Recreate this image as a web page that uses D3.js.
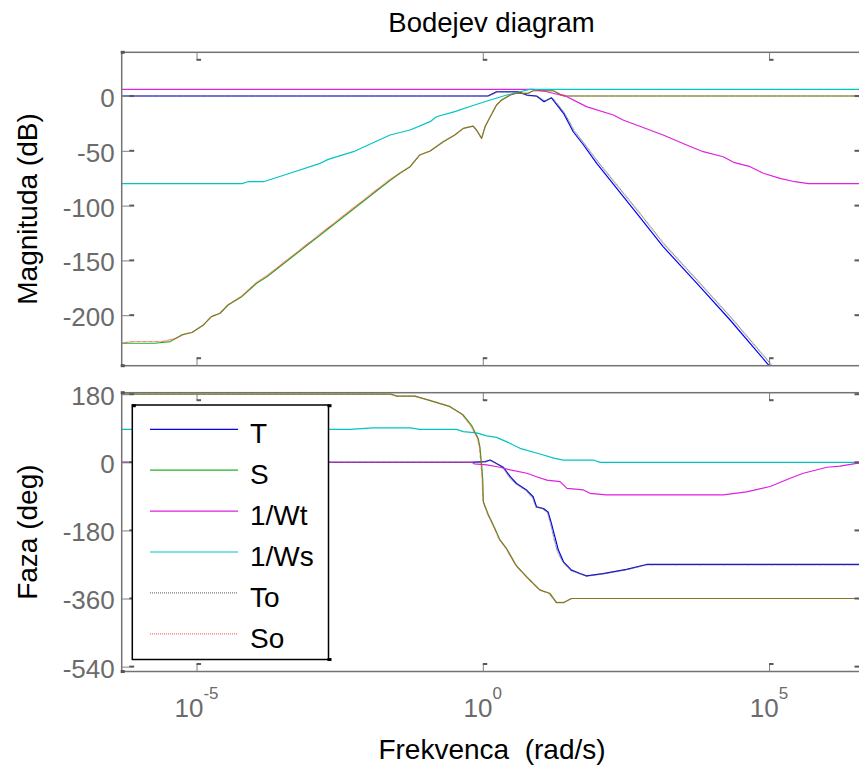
<!DOCTYPE html>
<html>
<head>
<meta charset="utf-8">
<script src="https://cdn.jsdelivr.net/npm/d3@7"></script>
<style>
  html, body { margin: 0; padding: 0; background: #fff; }
  svg { display: block; font-family: "Liberation Sans", Arial, Helvetica, sans-serif; }
</style>
</head>
<body>
<svg id="chart" width="859" height="765"></svg>
<script>
// ---- data: [log10(frequency in rad/s), value] ----
const seriesNames = ["T", "S", "1/Wt", "1/Ws", "To", "So"];
const freqTicks = [1e-5, 1, 1e5];
const magTicks = [0, -50, -100, -150, -200];
const phaseTicks = [180, 0, -180, -360, -540];

// magnitude (dB)
const magT = [[-6.31,0],[0.09,0],[0.24,3.9],[0.62,3.9],[0.77,0.9],[0.94,0],[1.07,-5.2],[1.20,-1.6],[1.41,-15.8],[1.58,-32.6],[1.76,-44.7],[1.99,-61.4],[2.34,-84.2],[2.69,-107],[3.15,-137.5],[3.74,-170.9],[4.32,-204.4],[4.99,-245.4],[5.5,-277]];
const magS = [[-6.31,-225.6],[-5.73,-225.6],[-5.46,-224.1],[-5.26,-218],[-5.08,-215.8],[-4.88,-208.9],[-4.74,-201.3],[-4.59,-198.2],[-4.45,-190.7],[-4.21,-183.1],[-3.95,-170.9],[-3.77,-164.9],[-1.65,-78.2],[-1.45,-70.5],[-1.27,-64.5],[-1.10,-53.8],[-0.92,-50.2],[-0.69,-41.7],[-0.49,-35.6],[-0.34,-29.5],[-0.17,-27.4],[-0.11,-31],[-0.02,-38.6],[0.04,-28],[0.13,-18.9],[0.24,-8.2],[0.33,-3.6],[0.48,0.9],[0.59,2.5],[0.79,2.5],[0.88,4.8],[1.23,4.8],[1.41,0],[6.71,0]];
const magWt = [[-6.31,6],[0.88,6],[1.12,3.9],[1.35,0.9],[1.41,0.9],[1.81,-9.7],[2.28,-17.3],[2.45,-21.9],[3.15,-35.6],[3.56,-44.7],[3.85,-50.8],[4.20,-55.4],[4.38,-60.5],[4.67,-64.5],[4.90,-70.5],[5.19,-75.1],[5.45,-78.2],[5.69,-80],[6.71,-80]];
const magWs = [[-6.31,-80],[-4.21,-80],[-4.10,-78.2],[-3.83,-78.2],[-3.37,-70.5],[-2.84,-61.4],[-2.70,-57.8],[-2.26,-50.8],[-1.62,-35.6],[-1.27,-31],[-0.92,-23.4],[-0.81,-18.9],[-0.49,-14.3],[-0.17,-8.7],[0.13,-3.6],[0.42,0.9],[0.65,3.9],[0.82,6],[6.71,6]];
const magTo = [[-6.31,0],[0.09,0],[0.25,3.5],[0.62,3.5],[0.78,0.5],[0.95,-0.5],[1.08,-4.5],[1.21,-1.5],[1.42,-15],[1.60,-32],[1.78,-44],[2.01,-60],[2.36,-82.5],[2.72,-105.5],[3.18,-136],[3.77,-169.5],[4.35,-203],[5.02,-244],[5.5,-274]];
const magSo = [[-6.31,-225.5],[-6.12,-224],[-5.60,-224],[-5.35,-221],[-5.20,-217],[-5.08,-215.8],[-4.88,-208.9],[-4.74,-201.3],[-4.59,-198.2],[-4.45,-190.7],[-4.21,-182.5],[-3.95,-170],[-3.77,-163.9],[-1.65,-77.2],[-1.45,-70.5],[-1.27,-64.5],[-1.10,-53.8],[-0.92,-50.2],[-0.69,-41.7],[-0.49,-35.6],[-0.34,-29.5],[-0.17,-27.4],[-0.11,-31],[-0.02,-38.6],[0.04,-28],[0.13,-18.9],[0.24,-8.2],[0.33,-3.6],[0.48,0.9],[0.59,2.5],[0.79,2.5],[0.88,4.8],[1.23,4.8],[1.41,0],[6.71,0]];

// phase (deg)
const phaseT = [[-6.31,0],[-0.22,0],[0.04,2],[0.13,6],[0.24,-3],[0.36,-13],[0.48,-38],[0.59,-56],[0.77,-74],[0.88,-91],[0.94,-118],[1.06,-122],[1.14,-131],[1.20,-162],[1.26,-197],[1.32,-232],[1.41,-263],[1.55,-285],[1.70,-294],[1.81,-300],[2.10,-294],[2.51,-283],[2.86,-270],[6.71,-270]];
const phaseS = [[-6.31,180],[-1.59,180],[-1.50,175],[-1.18,175],[-0.92,163],[-0.57,147],[-0.34,125],[-0.19,96],[-0.08,63],[-0.05,41],[-0.02,-7],[0.00,-47],[0.01,-105],[0.10,-139],[0.21,-174],[0.30,-205],[0.42,-229],[0.59,-274],[0.77,-303],[1.00,-338],[1.17,-346],[1.29,-371],[1.41,-371],[1.55,-360],[6.71,-360]];
const phaseWt = [[-6.31,0],[-0.19,0],[-0.15,-4],[0.07,-7],[0.30,-13],[0.48,-20],[0.77,-29],[0.94,-38],[1.12,-47],[1.35,-51],[1.47,-69],[1.76,-73],[1.87,-82],[2.16,-86],[4.20,-86],[4.61,-78],[5.02,-64],[5.37,-42],[5.60,-29],[6.01,-13],[6.24,-10],[6.53,-3],[6.71,0]];
const phaseWs = [[-6.31,87],[-2.32,87],[-1.92,91],[-1.27,91],[-1.10,87],[-0.46,87],[-0.34,81],[-0.11,78],[0.07,70],[0.24,66],[0.42,54],[0.65,37],[1.00,22],[1.24,11],[1.41,6],[1.93,6],[2.05,0],[6.71,0]];
const phaseTo = [[-6.31,0],[-0.22,0],[0.04,1],[0.13,5],[0.24,-4],[0.36,-15],[0.47,-40],[0.58,-57],[0.76,-75],[0.87,-93],[0.93,-118],[1.05,-123],[1.13,-133],[1.19,-165],[1.24,-199],[1.30,-234],[1.40,-264],[1.54,-286],[1.70,-295],[1.81,-301],[2.10,-295],[2.51,-284],[2.86,-271],[6.71,-271]];
const phaseSo = [[-6.31,180],[-1.62,180],[-1.52,175],[-1.20,175],[-0.95,165],[-0.60,149],[-0.37,128],[-0.22,99],[-0.10,66],[-0.06,43],[-0.03,-5],[-0.01,-45],[0.00,-100],[0.08,-136],[0.19,-170],[0.28,-202],[0.40,-226],[0.57,-271],[0.75,-301],[0.98,-336],[1.15,-346],[1.28,-370],[1.41,-370],[1.55,-360],[6.71,-360]];

// ---- styling ----
const seriesColors = ["#0000ff", "#22b022", "#dd22dd", "#00c4c4", "#555555", "#ff3030"];
const plotDash     = [null, null, null, null, "0.6,0.6", "0.6,0.6"];
const legendDash   = [null, null, null, null, "1,1", "1,1"];
const legendOpacity = [1, 1, 1, 1, 0.8, 0.7];
const magSeries   = [magT, magS, magWt, magWs, magTo, magSo];
const phaseSeries = [phaseT, phaseS, phaseWt, phaseWs, phaseTo, phaseSo];

const svg = d3.select("#chart");
const plotLeft = 121.7, plotRight = 867;
const magTop = 52.3, magBottom = 365.7;
const phaseTop = 392.7, phaseBottom = 671.5;
const frameColor = "#737373", tickTextColor = "#6b6b6b";

const x = d3.scaleLog().domain([Math.pow(10, -6.307), Math.pow(10, 6.711)]).range([plotLeft, plotRight]);
const yMag = d3.scaleLinear().domain([-246.1, 39.9]).range([magBottom, magTop]);
const yPhase = d3.scaleLinear().domain([-552.9, 184]).range([phaseBottom, phaseTop]);

function drawPanel(id, yScale, top, bottom, seriesList, yTicks, showXLabels) {
  const clipId = "clip-" + id;
  svg.append("clipPath").attr("id", clipId)
    .append("rect").attr("x", plotLeft).attr("y", top)
    .attr("width", plotRight - plotLeft).attr("height", bottom - top);

  const lines = svg.append("g").attr("clip-path", `url(#${clipId})`);
  const line = d3.line().x(d => x(Math.pow(10, d[0]))).y(d => yScale(d[1]));
  seriesList.forEach((data, i) => {
    lines.append("path")
      .attr("d", line(data))
      .attr("fill", "none")
      .attr("stroke", seriesColors[i])
      .attr("stroke-width", 1.2)
      .attr("stroke-dasharray", plotDash[i])
      .attr("stroke-linejoin", "round");
  });

  // axis box
  svg.append("rect")
    .attr("x", plotLeft).attr("y", top)
    .attr("width", plotRight - plotLeft).attr("height", bottom - top)
    .attr("fill", "none").attr("stroke", frameColor).attr("stroke-width", 1.5);
  [[plotLeft - 1, top - 1.5], [plotLeft - 1, bottom - 1.5]].forEach(p => {
    svg.append("rect").attr("x", p[0]).attr("y", p[1]).attr("width", 4).attr("height", 3).attr("fill", "#555");
  });

  // y axis (left) with labels
  const left = svg.append("g").attr("transform", `translate(${plotLeft},0)`)
    .call(d3.axisLeft(yScale).tickValues(yTicks).tickSize(-7.5).tickPadding(7).tickFormat(d => String(d)));
  left.select(".domain").remove();
  left.selectAll(".tick line").attr("stroke", "#808080");
  left.selectAll(".tick text").attr("fill", tickTextColor).attr("font-size", 26)
    .attr("dy", "0.4em").attr("font-family", "Liberation Sans, Arial, sans-serif");

  // y axis (right) ticks only
  const right = svg.append("g").attr("transform", `translate(${plotRight},0)`)
    .call(d3.axisRight(yScale).tickValues(yTicks).tickSize(-7.5).tickFormat(""));
  right.select(".domain").remove();
  right.selectAll(".tick line").attr("stroke", "#808080");

  yTicks.forEach(v => {
    const yy = yScale(v);
    svg.append("rect").attr("x", plotLeft + 7.5).attr("y", yy - 1).attr("width", 5).attr("height", 2).attr("fill", "#5a5a5a");
    svg.append("rect").attr("x", plotRight - 12.5).attr("y", yy - 1).attr("width", 5).attr("height", 2).attr("fill", "#5a5a5a");
  });

  // x ticks on top and bottom edges
  const topAx = svg.append("g").attr("transform", `translate(0,${top})`)
    .call(d3.axisTop(x).tickValues(freqTicks).tickSize(-7.5).tickFormat(""));
  topAx.select(".domain").remove();
  topAx.selectAll(".tick line").attr("stroke", "#808080");
  const botAx = svg.append("g").attr("transform", `translate(0,${bottom})`)
    .call(d3.axisBottom(x).tickValues(freqTicks).tickSize(-7.5).tickFormat(""));
  botAx.select(".domain").remove();
  botAx.selectAll(".tick line").attr("stroke", "#808080");
  freqTicks.forEach(f => {
    const xx = x(f);
    svg.append("rect").attr("x", xx).attr("y", top + 6.5).attr("width", 4.5).attr("height", 2).attr("fill", "#5a5a5a");
    svg.append("rect").attr("x", xx).attr("y", bottom - 8.5).attr("width", 4.5).attr("height", 2).attr("fill", "#5a5a5a");
  });

  if (showXLabels) {
    freqTicks.forEach(f => {
      const t = svg.append("text")
        .attr("x", x(f)).attr("y", 716.7)
        .attr("text-anchor", "middle")
        .attr("fill", tickTextColor);
      t.append("tspan").attr("font-size", 26).text("10");
      t.append("tspan").attr("font-size", 17).attr("dy", -18).text(String(Math.round(Math.log10(f))));
    });
  }
}

drawPanel("mag", yMag, magTop, magBottom, magSeries, magTicks, false);
drawPanel("phase", yPhase, phaseTop, phaseBottom, phaseSeries, phaseTicks, true);

// legend
const legX = 132.3, legY = 405, legW = 196.2, legH = 254.5;
const legend = svg.append("g");
legend.append("rect").attr("x", legX).attr("y", legY).attr("width", legW).attr("height", legH)
  .attr("fill", "#fff").attr("stroke", "#000").attr("stroke-width", 1.5);
[[legX - 0.5, legY - 0.8], [legX + legW - 1, legY - 0.8], [legX + legW - 1, legY + legH - 1.5]].forEach(p => {
  legend.append("rect").attr("x", p[0]).attr("y", p[1]).attr("width", 4).attr("height", 3).attr("fill", "#000");
});
seriesNames.forEach((name, i) => {
  const ly = 429.3 + i * 40.9;
  legend.append("line").attr("x1", 150).attr("x2", 238).attr("y1", ly).attr("y2", ly)
    .attr("stroke", seriesColors[i]).attr("stroke-width", 1.2)
    .attr("stroke-opacity", legendOpacity[i])
    .attr("stroke-dasharray", legendDash[i]);
  legend.append("text").attr("x", 250).attr("y", ly + 14)
    .attr("font-size", 28).attr("fill", "#000").text(name);
});

// titles and axis labels
svg.append("text").attr("x", 491.5).attr("y", 32).attr("text-anchor", "middle")
  .attr("font-size", 27.5).attr("fill", "#000").text("Bodejev diagram");
svg.append("text").attr("x", 492).attr("y", 758.5).attr("text-anchor", "middle")
  .attr("font-size", 28).attr("fill", "#000").style("white-space", "pre")
  .text("Frekvenca  (rad/s)");
svg.append("text").attr("transform", `translate(37,${(magTop + magBottom) / 2}) rotate(-90)`)
  .attr("text-anchor", "middle").attr("font-size", 28).attr("fill", "#000")
  .text("Magnituda (dB)");
svg.append("text").attr("transform", `translate(36.5,${(phaseTop + phaseBottom) / 2}) rotate(-90)`)
  .attr("text-anchor", "middle").attr("font-size", 28).attr("fill", "#000")
  .text("Faza (deg)");
</script>
</body>
</html>
